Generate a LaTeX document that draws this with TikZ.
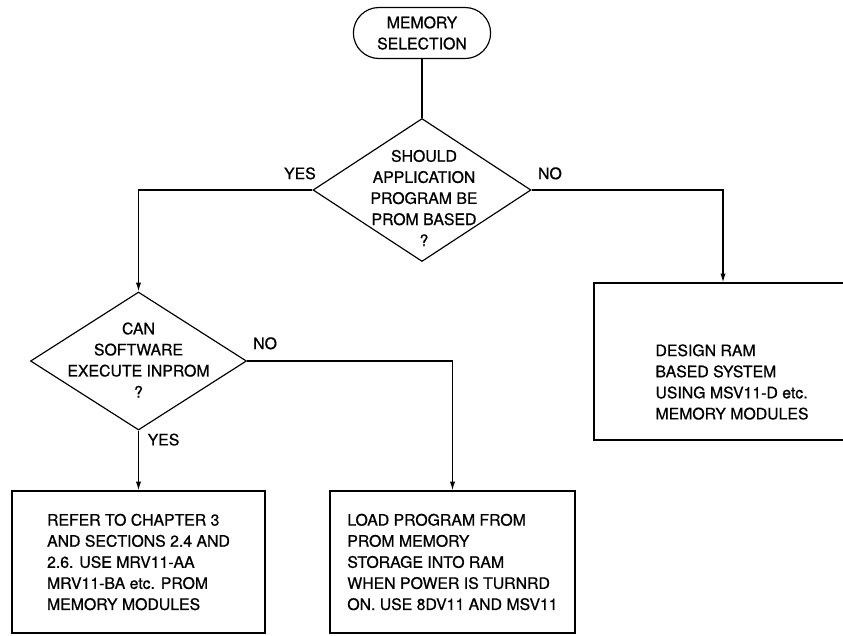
\documentclass[tikz,border=0pt]{standalone}
\usepackage{fontspec}
\setmainfont{TeX Gyre Heros}[FakeBold=0.8]
\usetikzlibrary{arrows.meta,shapes.geometric,shapes.misc}
\tikzset{
	every node/.style={font=\fontsize{13.5}{18}\selectfont},
	flow/.style={-{Latex[length=7.5pt,width=4.5pt]}, line width=1.1pt},
	plain/.style={line width=1.1pt},
	terminal/.style={draw, line width=1pt, rounded rectangle, minimum width=4.35cm, minimum height=1.53cm, align=center},
	decision/.style={draw, line width=1pt, diamond, inner sep=0pt},
	qtext/.style={align=center, inner sep=0pt},
	action/.style={draw, line width=1pt, rectangle, minimum height=4.26cm, align=left},
	answer/.style={inner sep=2pt}
}

\begin{document}
\begin{tikzpicture}[x=0.03cm, y=-0.03cm]
		\clip (0, 0) rectangle (843, 635);

		\node [terminal]	(start)	at (422, 33)	{MEMORY\\SELECTION};
		\node [decision, minimum width=6.54cm, minimum height=4.29cm]	(prom)	at (422, 190)	{};
		\node [qtext]	(promq)	at (424, 198)	{SHOULD\\APPLICATION\\PROGRAM BE\\PROM BASED\\?};
		\node [decision, minimum width=6.48cm, minimum height=4.14cm]	(exec)	at (138.5, 361)	{};
		\node [qtext]	(execq)	at (138.5, 360)	{CAN\\SOFTWARE\\EXECUTE INPROM\\?};

		\node [action, minimum width=7.59cm]	(refer)	at (138.5, 562)	{REFER TO CHAPTER 3\\AND SECTIONS 2.4 AND\\2.6. USE MRV11-AA\\MRV11-BA etc. PROM\\MEMORY MODULES};
		\node [action, minimum width=7.35cm]	(load)	at (452.5, 562)	{LOAD PROGRAM FROM\\PROM MEMORY\\STORAGE INTO RAM\\WHEN POWER IS TURNRD\\ON. USE 8DV11 AND MSV11};
		\node [action, minimum width=7.74cm, minimum height=4.71cm]	(ram)	at (723, 361.5)	{};
		\node [align=left]	(ramtext)	at (732, 382)	{DESIGN RAM\\BASED SYSTEM\\USING MSV11-D etc.\\MEMORY MODULES};

		\draw [plain]	(start.south) to (prom.north);
		\draw [flow]	(prom.west) node [answer, anchor=south east, xshift=5.4pt, yshift=6.5pt] (yes1) {YES} -| (exec.north);
		\draw [flow]	(prom.east) node [answer, anchor=south west, xshift=3pt, yshift=6.5pt] (no1) {NO} -| (ram.north);
		\draw [flow]	(exec.east) node [answer, anchor=south west, xshift=2.7pt, yshift=7.4pt] (no2) {NO} -| (load.north);
		\draw [flow]	(exec.south) node [answer, anchor=north west, xshift=5.3pt] (yes2) {YES} to (refer.north);
	\end{tikzpicture}
\end{document}
